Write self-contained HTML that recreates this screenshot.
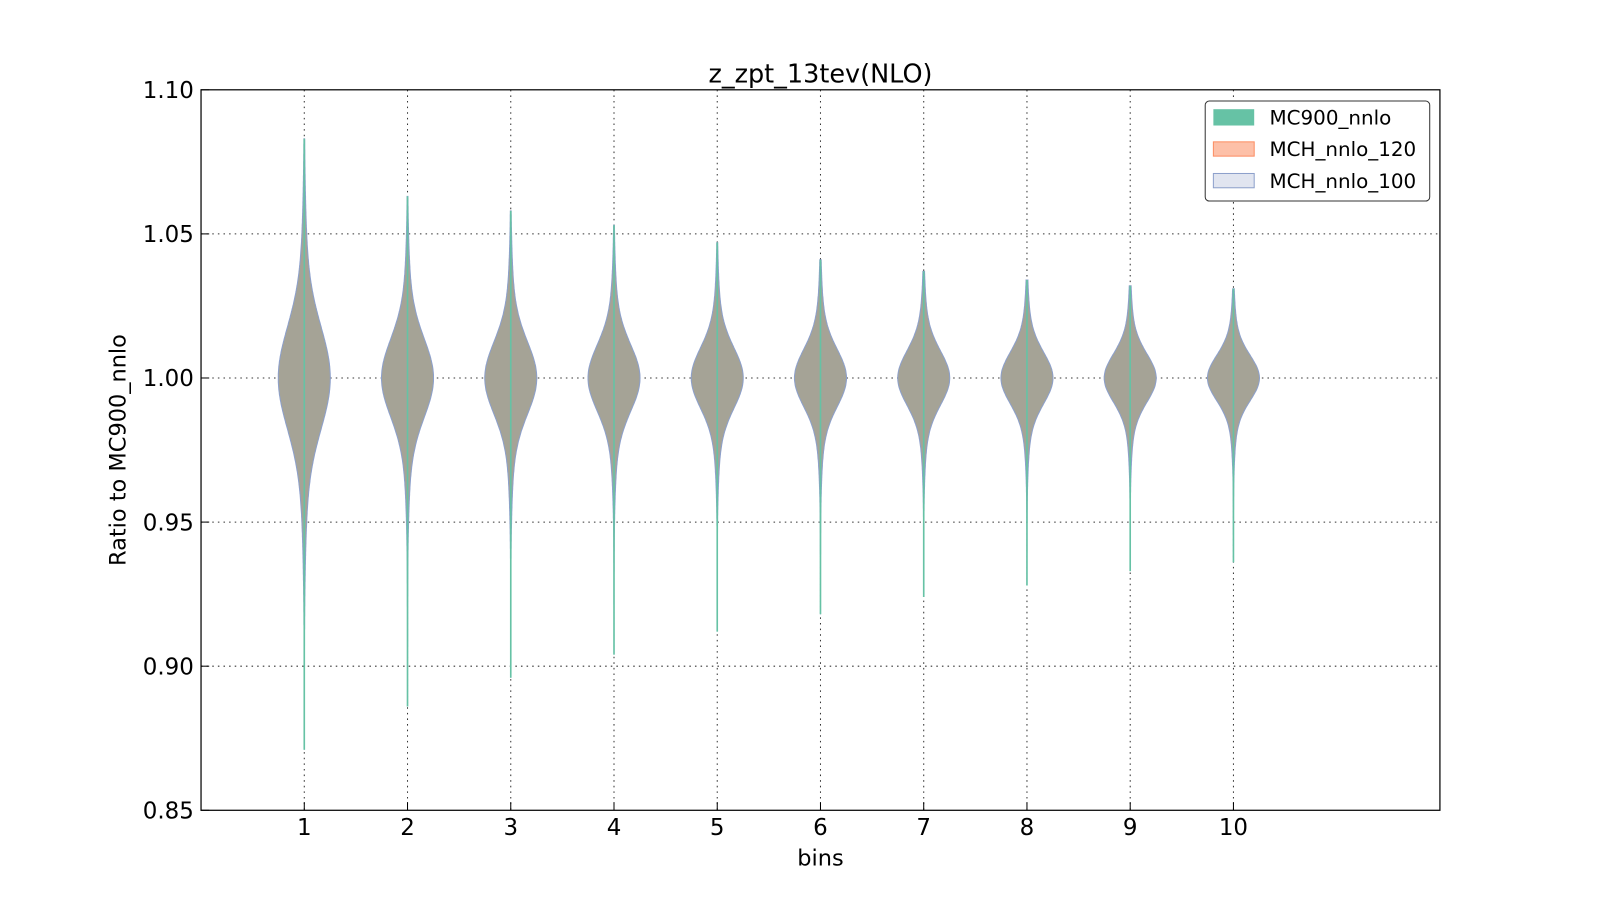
<!DOCTYPE html>
<html><head><meta charset="utf-8"><style>body{margin:0;background:#fff}svg{display:block;font-family:"DejaVu Sans","Liberation Sans",sans-serif}</style></head>
<body>
<svg id="c" width="1600" height="900">
<rect width="1600" height="900" fill="#fff"/>
<g transform="scale(1.0205)">
<text x="804" y="81" font-size="25" text-anchor="middle">z_zpt_13tev(NLO)</text>
<g id="grid"></g><g id="marks"></g>
<rect x="197" y="88" width="1214" height="706" fill="none" stroke="#000" stroke-width="1.2"/>
<g id="ticks"></g>
<text x="804" y="848" font-size="22" text-anchor="middle">bins</text>
<text transform="translate(123,441) rotate(-90)" font-size="22" text-anchor="middle">Ratio to MC900_nnlo</text>
<g>
<rect x="1181" y="99" width="220" height="98" rx="4" fill="#fff" stroke="#333" stroke-width="1"/>
<rect x="1189" y="107" width="40" height="16" fill="#66c2a5"/>
<text x="1244" y="122" font-size="19.5">MC900_nnlo</text>
<rect x="1189" y="139" width="40" height="14" fill="#fdc0a8" stroke="#fc8d62"/>
<text x="1244" y="153" font-size="19.5">MCH_nnlo_120</text>
<rect x="1189" y="170" width="40" height="14" fill="#e1e5f0" stroke="#8da0cb"/>
<text x="1244" y="184" font-size="19.5">MCH_nnlo_100</text>
</g>
</g>
</svg>
<script>
const bins=[1,2,3,4,5,6,7,8,9,10];
const maxVals=[1.083,1.063,1.058,1.053,1.047,1.041,1.037,1.034,1.032,1.031];
const minVals=[0.871,0.886,0.896,0.904,0.912,0.918,0.924,0.928,0.933,0.936];
const spread=[0.017,0.013,0.012,0.011,0.010,0.0095,0.009,0.0085,0.008,0.0075];
const yTicks=[0.85,0.90,0.95,1.00,1.05,1.10];
const yTickLabels=["0.85","0.90","0.95","1.00","1.05","1.10"];
const xTickLabels=["1","2","3","4","5","6","7","8","9","10"];
const NS="http://www.w3.org/2000/svg";
const X=v=>197+v*(1214/12);
const Y=v=>794-(v-0.85)*(706/0.25);
const grid=document.getElementById('grid'),ticks=document.getElementById('ticks'),marks=document.getElementById('marks');
function mk(tag,attrs,parent){const e=document.createElementNS(NS,tag);for(const k in attrs)e.setAttribute(k,attrs[k]);parent.appendChild(e);return e;}
yTicks.forEach((t,i)=>{
  const y=Y(t);
  if(i>0&&i<yTicks.length-1){const g=mk('line',{x1:197,x2:1411,y1:y,y2:y,stroke:'#333','stroke-dasharray':'1.5,4','stroke-width':1},grid);
  
  }
  const tx=mk('text',{x:190,y:y+8,'font-size':22.5,'text-anchor':'end'},ticks);tx.textContent=yTickLabels[i];
  
  
  mk('line',{x1:197,x2:205,y1:y,y2:y,stroke:'#000'},ticks);
});
bins.forEach((b,i)=>{
  const x=X(b);
  const g=mk('line',{x1:x,x2:x,y1:88,y2:794,stroke:'#333','stroke-dasharray':'1.5,4','stroke-width':1},grid);
  
  
  const tx=mk('text',{x:x,y:818,'font-size':22.5,'text-anchor':'middle'},ticks);tx.textContent=xTickLabels[i];
  
  
  mk('line',{x1:x,x2:x,y1:794,y2:786,stroke:'#000'},ticks);
  const s=spread[i],W=25.5;let right=[],left=[];
  for(let v=minVals[i];v<=maxVals[i]+1e-9;v+=0.0005){
    const d=v-1;
    const w=W*(0.78*Math.exp(-0.5*(d/s)**2)+0.22*Math.exp(-0.5*(d/(2.1*s))**2));
    right.push((x+w).toFixed(1)+','+Y(v).toFixed(1));
    left.unshift((x-w).toFixed(1)+','+Y(v).toFixed(1));
  }
  const p=mk('polygon',{points:right.concat(left).join(' '),fill:'#a5a396',stroke:'#8da0cb','stroke-width':1},marks);
  
  
  const ln=mk('line',{x1:x,x2:x,y1:Y(maxVals[i]),y2:Y(minVals[i]),stroke:'#66c2a5','stroke-width':1.6},marks);
  
  
});
</script>
</body></html>
